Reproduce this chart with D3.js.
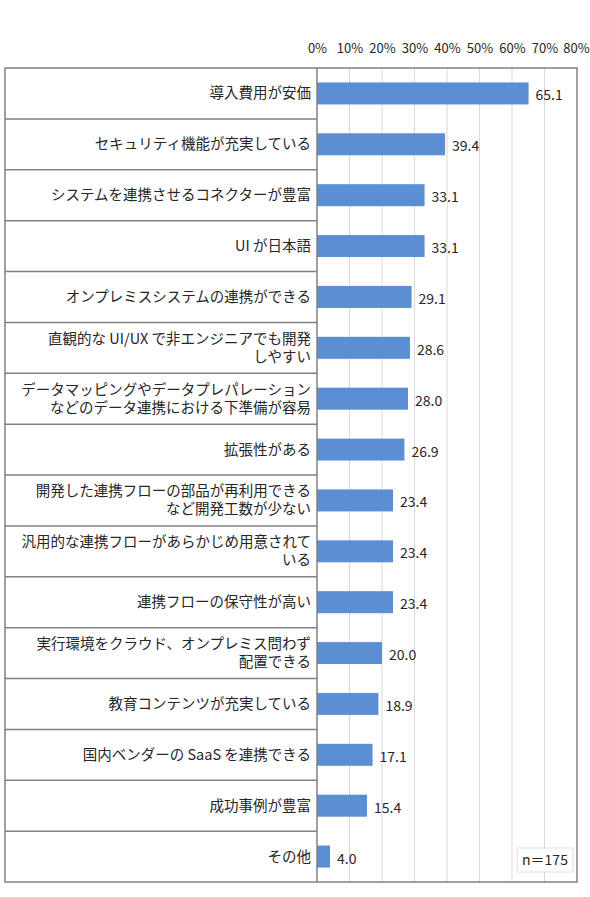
<!DOCTYPE html>
<html>
<head>
<meta charset="utf-8">
<script src="https://cdn.jsdelivr.net/npm/d3@7"></script>
<style>
  body { margin: 0; background: #fff; }
  svg { display: block; }
  .cat { font-family: "Noto Sans CJK JP", sans-serif; font-size: 14.5px; fill: #262626; }
  .num { font-family: "Noto Sans CJK JP", sans-serif; font-size: 14px; fill: #262626; }
  .tick text { font-size: 13px; }
</style>
</head>
<body>
<svg width="590" height="897"></svg>
<script>
let categories = [
    "導入費用が安価",
    "セキュリティ機能が充実している",
    "システムを連携させるコネクターが豊富",
    "UI が日本語",
    "オンプレミスシステムの連携ができる",
    "直観的な UI/UX で非エンジニアでも開発\nしやすい",
    "データマッピングやデータプレパレーション\nなどのデータ連携における下準備が容易",
    "拡張性がある",
    "開発した連携フローの部品が再利用できる\nなど開発工数が少ない",
    "汎用的な連携フローがあらかじめ用意されて\nいる",
    "連携フローの保守性が高い",
    "実行環境をクラウド、オンプレミス問わず\n配置できる",
    "教育コンテンツが充実している",
    "国内ベンダーの SaaS を連携できる",
    "成功事例が豊富",
    "その他"
];
let values = [65.1, 39.4, 33.1, 33.1, 29.1, 28.6, 28.0, 26.9, 23.4, 23.4, 23.4, 20.0, 18.9, 17.1, 15.4, 4.0];
let ticks = [0, 10, 20, 30, 40, 50, 60, 70, 80];
let note = "n＝175";

let svg = d3.select("svg");

let pLeft = 5;
let pMid = 317;
let pRight = 577;
let pTop = 68;
let pBottom = 882;

let xScale = d3.scaleLinear().domain([0, 80]).range([pMid, pRight]);
let yScale = d3.scaleBand().domain(categories).range([pTop, pBottom]).paddingInner(0).paddingOuter(0);
let barH = 22;

// gridlines
svg.append("g")
    .selectAll("line")
    .data(ticks.slice(1, -1))
    .enter()
    .append("line")
    .attr("x1", d => xScale(d))
    .attr("x2", d => xScale(d))
    .attr("y1", pTop)
    .attr("y2", pBottom)
    .attr("stroke", "#d9d9d9")
    .attr("stroke-width", 1);

// row dividers in the label column
svg.append("g")
    .selectAll("line")
    .data(categories.slice(1))
    .enter()
    .append("line")
    .attr("x1", pLeft)
    .attr("x2", pMid)
    .attr("y1", d => yScale(d))
    .attr("y2", d => yScale(d))
    .attr("stroke", "#808080")
    .attr("stroke-width", 1.5);

// bars
svg.append("g")
    .selectAll("rect")
    .data(categories)
    .enter()
    .append("rect")
    .attr("x", xScale(0))
    .attr("y", d => yScale(d) + yScale.bandwidth() / 2 - barH / 2)
    .attr("width", (d, i) => xScale(values[i]) - xScale(0))
    .attr("height", barH)
    .attr("fill", "#5b8fd3");

// value labels
svg.append("g")
    .selectAll("text")
    .data(categories)
    .enter()
    .append("text")
    .attr("class", "num")
    .attr("x", (d, i) => xScale(values[i]) + 7)
    .attr("y", d => yScale(d) + yScale.bandwidth() / 2 + 7)
    .text((d, i) => values[i].toFixed(1));

// category labels, one text per line
svg.append("g")
    .selectAll("g")
    .data(categories)
    .enter()
    .append("g")
    .each(function(d) {
        let lines = d.split("\n");
        let cy = yScale(d) + yScale.bandwidth() / 2;
        let lh = 18;
        let y0 = cy - (lines.length - 1) * lh / 2 + 5;
        d3.select(this).selectAll("text")
            .data(lines)
            .enter()
            .append("text")
            .attr("class", "cat")
            .attr("text-anchor", "end")
            .attr("x", pMid - 6)
            .attr("y", (l, j) => y0 + j * lh)
            .text(l => l);
    });

// top axis
let xAxis = d3.axisTop(xScale)
    .tickValues(ticks)
    .tickSize(0)
    .tickPadding(0)
    .tickFormat(d => d + "%");
let axisG = svg.append("g")
    .attr("transform", "translate(0,53)")
    .call(xAxis);
axisG.select(".domain").remove();
axisG.selectAll("text")
    .attr("class", "num")
    .attr("fill", "#262626")
    .attr("dx", (d, i) => i == ticks.length - 1 ? -1 : 0);

// vertical divider and outer frame
svg.append("line")
    .attr("x1", pMid).attr("x2", pMid)
    .attr("y1", pTop).attr("y2", pBottom)
    .attr("stroke", "#808080")
    .attr("stroke-width", 1.5);

svg.append("rect")
    .attr("x", pLeft).attr("y", pTop)
    .attr("width", pRight - pLeft).attr("height", pBottom - pTop)
    .attr("fill", "none")
    .attr("stroke", "#808080")
    .attr("stroke-width", 1.5);

// n box
svg.append("rect")
    .attr("x", 517).attr("y", 848)
    .attr("width", 56).attr("height", 24)
    .attr("fill", "#fff")
    .attr("stroke", "#e0e0e0");
svg.append("text")
    .attr("class", "num")
    .attr("x", 545).attr("y", 865)
    .attr("text-anchor", "middle")
    .text(note);
</script>
</body>
</html>
